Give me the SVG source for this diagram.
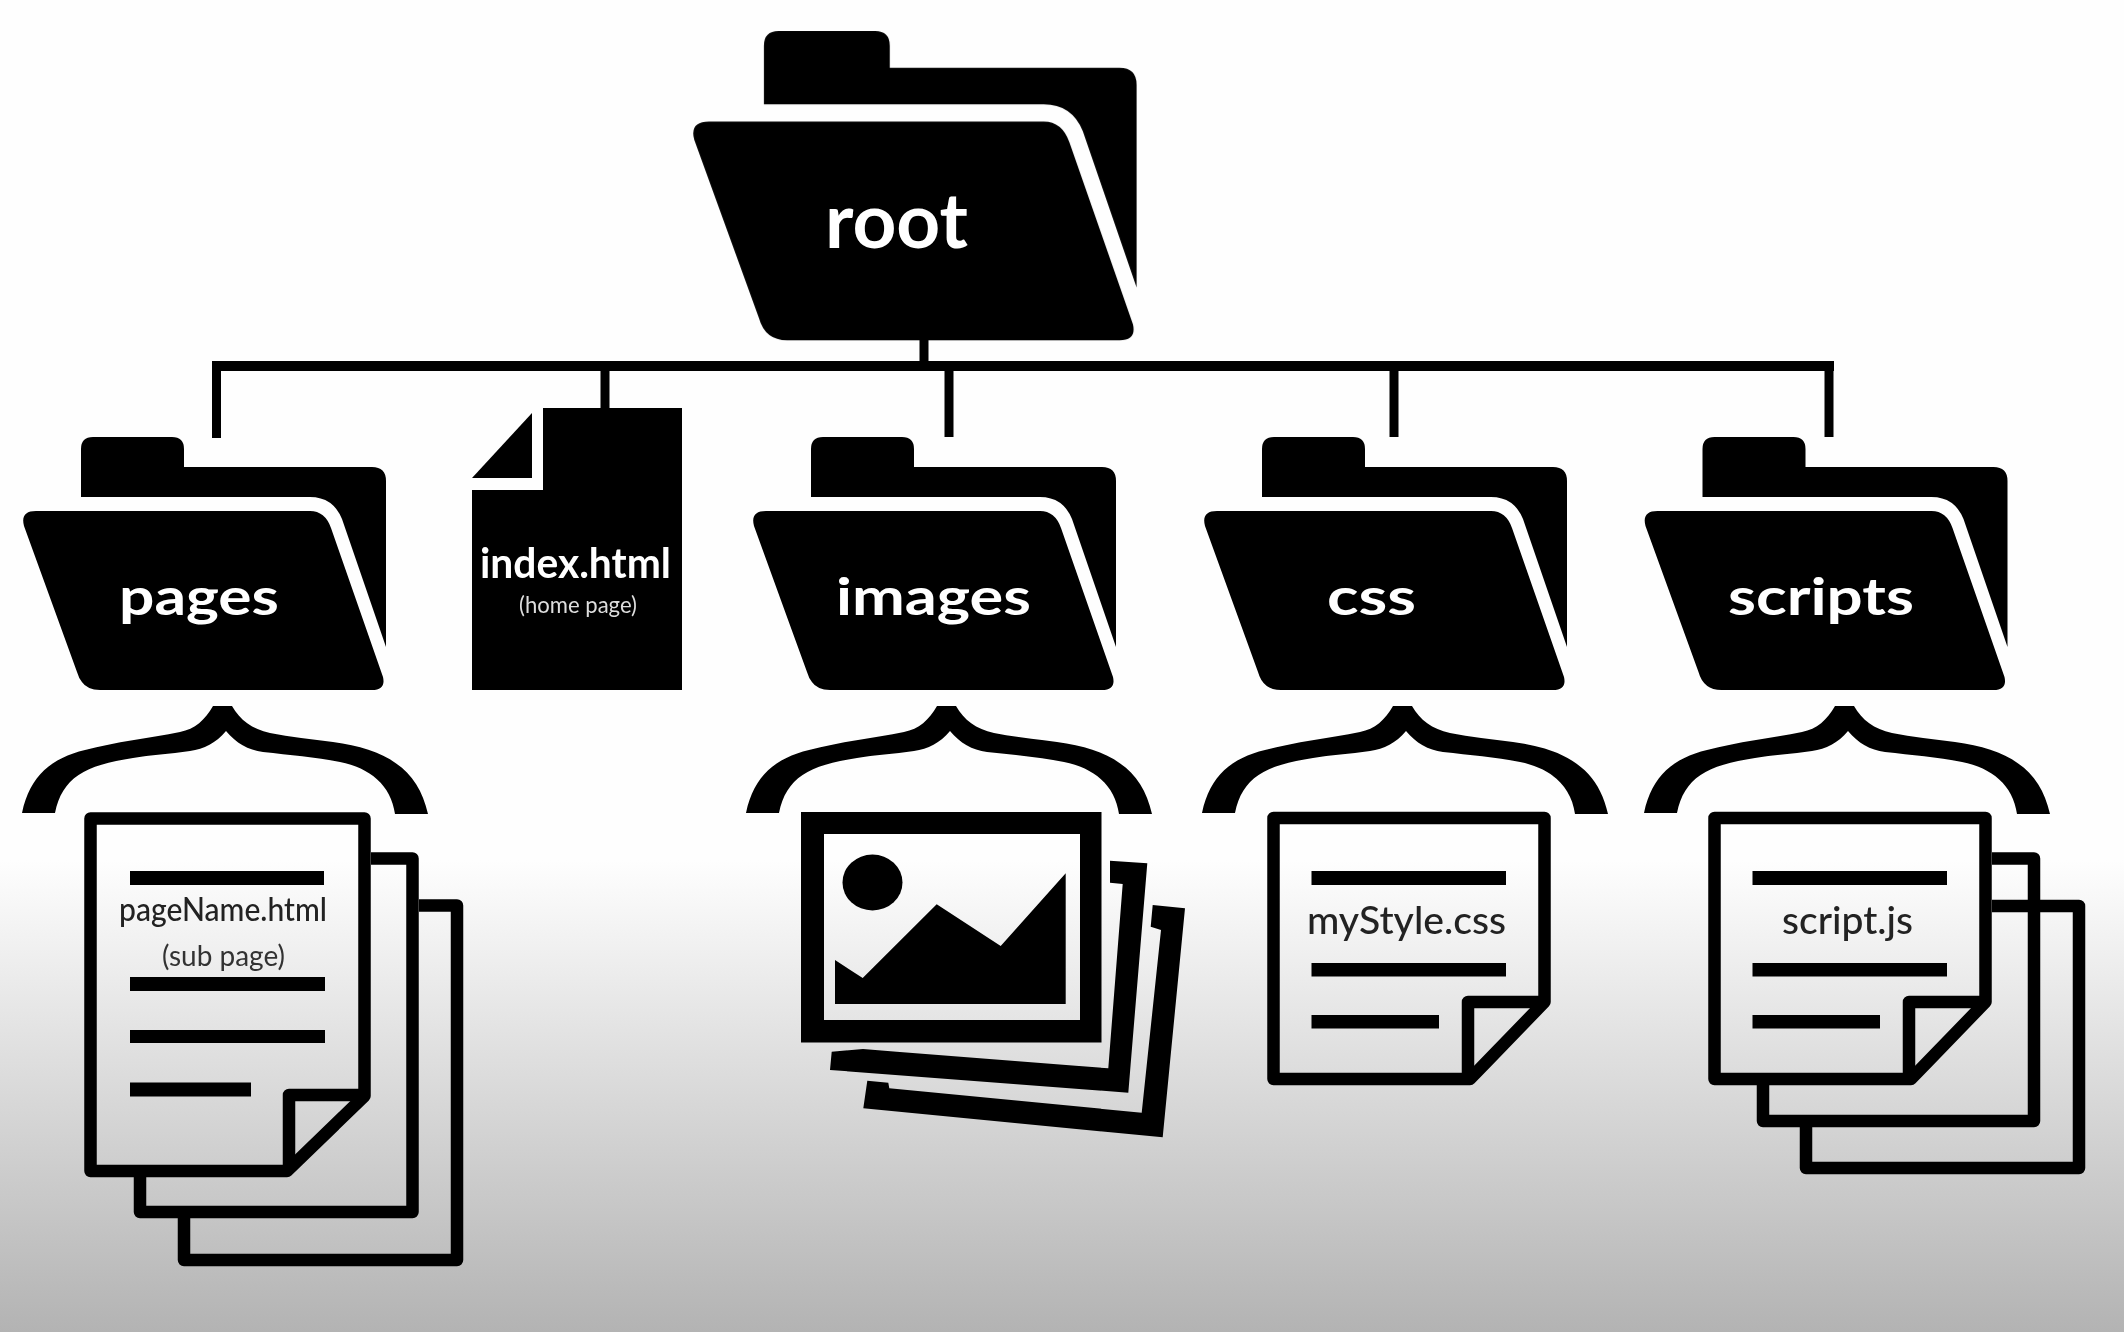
<svg xmlns="http://www.w3.org/2000/svg" width="2124" height="1332" viewBox="0 0 2124 1332">
<style>
.s{fill:none;stroke:#000;stroke-width:12.5;stroke-linejoin:round}
.c{fill:none;stroke:#000}
.t{font-family:"Lato","Liberation Sans",sans-serif;text-anchor:start}
.w{fill:#fff;font-weight:700}
.d{fill:#222;font-weight:500}
.g{fill:#333;font-weight:400}
</style>
<defs>
<linearGradient id="bg" gradientUnits="userSpaceOnUse" x1="0" y1="860" x2="0" y2="1332">
<stop offset="0" stop-color="#fefefe"/><stop offset="1" stop-color="#b3b3b3"/>
</linearGradient>
<filter id="soft" filterUnits="userSpaceOnUse" x="0" y="0" width="2124" height="1332"><feGaussianBlur stdDeviation="0.7"/></filter>
<g id="folder">
<path d="M81 497V449Q81 437 93 437H172Q184 437 184 449V467H372Q386 467 386 481V647L342 519Q333 497 310 497Z"/>
<path d="M36 511H310Q325 511 331 528L383 677Q386 690 372 690H100Q82 690 77 672L24 526Q20 511 36 511Z"/>
</g>
<path id="brace" d="M213 706H232C240 720 252 729 270 733C290 737 312 739 333 742C385 749 418 768 428 814H395C391 785 370 768 340 762C315 757 290 755 263 752C248 750 236 743 226 731C216 743 204 749 190 751C170 754 150 755 133 758C85 765 62 778 55 813H22C30 775 52 758 85 750C115 742 150 738 180 732C195 729 205 720 213 706Z"/>
<g id="doc">
<path class="s" d="M1273.500 818H1544.500V1002L1470 1079H1273.500Z"/>
<path class="s" d="M1468 1079V1002H1544"/>
<rect x="1311.500" y="871" width="194.500" height="14"/>
<rect x="1311.500" y="963" width="194.500" height="13.500"/>
<rect x="1311.500" y="1015" width="127.500" height="13.500"/>
</g>
</defs>
<rect width="2124" height="1332" fill="url(#bg)"/>
<g filter="url(#soft)">
<g id="connectors">
<path class="c" stroke-width="10" d="M212 366H1834"/>
<path class="c" stroke-width="9" d="M216.500 366V438M605 366V410M924 338V366M949 366V437M1394 366V437M1829 366V437"/>
</g>

<g id="root">
<use href="#folder" transform="translate(664.900 -503) scale(1.222)"/>
<text class="t w" x="825" y="248" font-size="76" textLength="143" lengthAdjust="spacingAndGlyphs">root</text>
</g>
<g id="pages">
<use href="#folder"/>
<text class="t w" x="119" y="615" font-size="52" textLength="160" lengthAdjust="spacingAndGlyphs">pages</text>
</g>
<g id="index-html">
<path d="M543 408H682V690H472V490H543Z"/>
<path d="M532 413V478H472Z"/>
<text class="t w" x="480" y="578" font-size="42" textLength="191" lengthAdjust="spacingAndGlyphs">index.html</text>
<text class="t" fill="#ddd" x="519" y="613" font-size="23" textLength="118" lengthAdjust="spacingAndGlyphs">(home page)</text>
</g>
<g id="images">
<use href="#folder" x="730"/>
<text class="t w" x="836" y="615" font-size="52" textLength="195" lengthAdjust="spacingAndGlyphs">images</text>
</g>
<g id="css">
<use href="#folder" x="1181"/>
<text class="t w" x="1327" y="615" font-size="52" textLength="89" lengthAdjust="spacingAndGlyphs">css</text>
</g>
<g id="scripts">
<use href="#folder" x="1621.500"/>
<text class="t w" x="1728" y="615" font-size="52" textLength="186" lengthAdjust="spacingAndGlyphs">scripts</text>
</g>

<g id="pages-brace"><use href="#brace"/></g>
<g id="images-brace"><use href="#brace" x="724"/></g>
<g id="css-brace"><use href="#brace" x="1180"/></g>
<g id="scripts-brace"><use href="#brace" x="1622"/></g>

<g id="pagename-html">
<path class="s" d="M419 905.500H457V1260H184V1218"/>
<path class="s" d="M371 858.500H412.500V1212H140V1177"/>
<path class="s" d="M90.500 818.500H364.500V1096L287 1171H90.500Z"/>
<path class="s" d="M289 1171V1095H364"/>
<rect x="130" y="871" width="194" height="14"/>
<rect x="130" y="977" width="195" height="14"/>
<rect x="130" y="1030" width="195" height="13"/>
<rect x="130" y="1082.500" width="121" height="14"/>
<text class="t d" x="119" y="921" font-size="33" textLength="208" lengthAdjust="spacingAndGlyphs">pageName.html</text>
<text class="t g" x="162" y="966" font-size="29" textLength="123" lengthAdjust="spacingAndGlyphs">(sub page)</text>
</g>

<g id="image-files">
<path d="M1152.700 905L1185 908.300L1162.700 1137.300L863.300 1108.300L867.300 1080.700L888.300 1082.700L889.300 1088.300L1141.700 1112.700L1161 930L1150.700 926.700Z"/>
<path d="M1110 860.700L1147.300 863.300L1128.300 1092.700L830 1070L831.700 1051.700L863 1049L896.700 1051.700L1108.300 1068.300L1122.700 884L1110 882.700Z"/>
<path fill-rule="evenodd" d="M801 812H1101.500V1042.500H801ZM824 834V1020H1080V834Z"/>
<ellipse cx="872.500" cy="882.500" rx="30" ry="28"/>
<path d="M835 960L862.700 978L936.700 904.300L1000.700 946L1065.700 873.300V1004H835Z"/>
</g>

<g id="mystyle-css">
<use href="#doc"/>
<text class="t d" x="1307" y="934" font-size="38" textLength="199" lengthAdjust="spacingAndGlyphs">myStyle.css</text>
</g>

<g id="script-js">
<path class="s" d="M1992 906H2079V1168H1806V1127"/>
<path class="s" d="M1992 858.500H2034V1121H1763V1085"/>
<use href="#doc" x="441"/>
<text class="t d" x="1782" y="934" font-size="38" textLength="131" lengthAdjust="spacingAndGlyphs">script.js</text>
</g>
</g>
</svg>
